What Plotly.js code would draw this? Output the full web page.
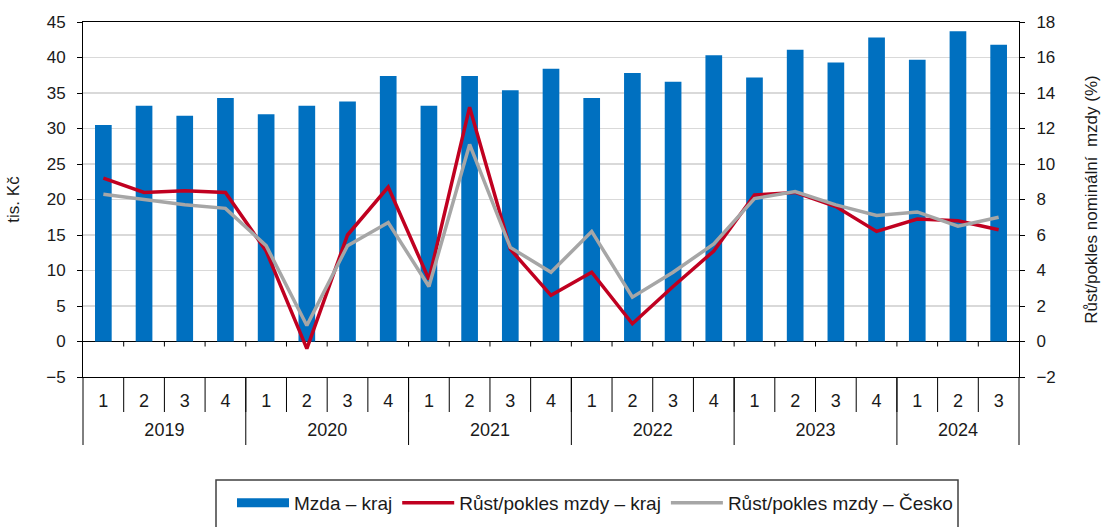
<!DOCTYPE html>
<html><head><meta charset="utf-8">
<script src="https://cdn.plot.ly/plotly-3.0.1.min.js"></script>
<style>body{margin:0;background:#fff}#chart{width:1104px;height:527px}</style>
</head><body><div id="chart"></div>
<script>
const years = ['2019','2020','2021','2022','2023','2024'];
const quartersPerYear = [4,4,4,4,4,3];
const quarterLabels = ['1','2','3','4'];
const mzdaKraj = [30.5,33.2,31.8,34.3, 32.0,33.2,33.8,37.4, 33.2,37.4,35.4,38.4, 34.3,37.8,36.6,40.3, 37.2,41.1,39.3,42.8, 39.7,43.7,41.8];
const rustKraj = [9.2,8.4,8.5,8.4, 5.1,-0.4,6.0,8.7, 3.5,13.2,5.2,2.6, 3.9,1.0,3.1,5.1, 8.25,8.4,7.6,6.2, 6.9,6.8,6.3];
const rustCesko = [8.3,8.0,7.7,7.5, 5.4,0.9,5.4,6.7, 3.1,11.1,5.3,3.9, 6.2,2.5,3.9,5.5, 8.05,8.45,7.7,7.1, 7.3,6.5,7.0];
const seriesNames = ['Mzda – kraj','Růst/pokles mzdy – kraj','Růst/pokles mzdy – Česko'];

// category keys (year-quarter) and their display labels
const keys = [], inner = [], yearCenters = [], yearBounds = [0];
let idx = 0;
years.forEach((y,i)=>{
  const k = quartersPerYear[i];
  for(let q=0;q<k;q++){ keys.push(y+'-'+quarterLabels[q]); inner.push(quarterLabels[q]); }
  yearCenters.push(idx + (k-1)/2);
  idx += k;
  yearBounds.push(idx);
});
const n = keys.length;

const BLUE='#0070C0', RED='#C00020', GREY='#A6A6A6';
const FONT='"Liberation Sans", Arial, sans-serif';

const traces = [
 {type:'bar', x:keys, y:mzdaKraj, name:seriesNames[0], marker:{color:BLUE}, showlegend:false, yaxis:'y'},
 {type:'scatter', mode:'lines', x:[0], y:[null], xaxis:'x2', name:seriesNames[0], line:{color:BLUE, width:9}, hoverinfo:'skip', showlegend:true},
 {type:'scatter', mode:'lines', x:keys, y:rustKraj, name:seriesNames[1], line:{color:RED, width:3.5}, yaxis:'y2'},
 {type:'scatter', mode:'lines', x:keys, y:rustCesko, name:seriesNames[2], line:{color:GREY, width:3.5}, yaxis:'y2'}
];

const plotH = 527-22-150;
const shapes = [];
for(let i=1;i<n;i++){
  shapes.push({type:'line', xref:'paper', yref:'paper', x0:i/n, x1:i/n, y0:0, y1:-35/plotH, line:{color:'#000', width:1}});
  shapes.push({type:'line', xref:'paper', yref:'paper', x0:i/n, x1:i/n, y0:0.1, y1:0.1-5/plotH, line:{color:'#000', width:1}});
}
yearBounds.forEach(b=>{
  shapes.push({type:'line', xref:'paper', yref:'paper', x0:b/n, x1:b/n, y0:0, y1:-68/plotH, line:{color:'#000', width:1}});
});
shapes.push({type:'rect', xref:'paper', yref:'paper', x0:(216-83)/936, x1:(958-83)/936, y0:(377-480)/plotH, y1:-0.6, line:{color:'#404040', width:1.5}, fillcolor:'rgba(0,0,0,0)'});

const layout = {
  width:1104, height:527,
  margin:{l:83, r:85, t:22, b:150, autoexpand:false},
  paper_bgcolor:'#fff', plot_bgcolor:'#fff',
  font:{family:FONT, size:17, color:'#1a1a1a'},
  bargap:0.59,
  showlegend:true,
  legend:{orientation:'h', x:(232-83)/936, xanchor:'left', y:(377-503)/plotH, yanchor:'middle', font:{size:19}, bgcolor:'rgba(0,0,0,0)', itemwidth:52, traceorder:'normal'},
  xaxis:{type:'category', range:[-0.5, n-0.5], automargin:false, showline:true, linecolor:'#000', linewidth:1, mirror:true, ticks:'', tickvals:keys, ticktext:inner, tickfont:{size:18}, ticklabelstandoff:7, showgrid:false, zeroline:false, fixedrange:true},
  xaxis2:{type:'linear', overlaying:'x', anchor:'free', position:0, side:'bottom', range:[-0.5, n-0.5], automargin:false, showline:false, ticks:'', tickvals:yearCenters, ticktext:years, tickfont:{size:18}, ticklabelstandoff:40, showgrid:false, zeroline:false, fixedrange:true},
  yaxis:{range:[-5,45], dtick:5, tick0:0, ticks:'outside', ticklen:5, tickcolor:'#000', showline:true, linecolor:'#000', gridcolor:'#d9d9d9', gridwidth:1.5, zeroline:true, zerolinecolor:'#000', zerolinewidth:1, ticklabelstandoff:8, automargin:true, title:{text:'tis. Kč', font:{size:17}, standoff:22}, fixedrange:true},
  yaxis2:{overlaying:'y', side:'right', range:[-2,18], dtick:2, tick0:0, ticks:'outside', ticklen:5, tickcolor:'#000', showline:true, linecolor:'#000', showgrid:false, zeroline:false, ticklabelstandoff:8, automargin:true, title:{text:'Růst/pokles nominální\u00a0 mzdy (%)', font:{size:17}, standoff:30}, fixedrange:true},
  shapes:shapes
};
Plotly.newPlot('chart', traces, layout, {displayModeBar:false, staticPlot:true});
</script></body></html>
